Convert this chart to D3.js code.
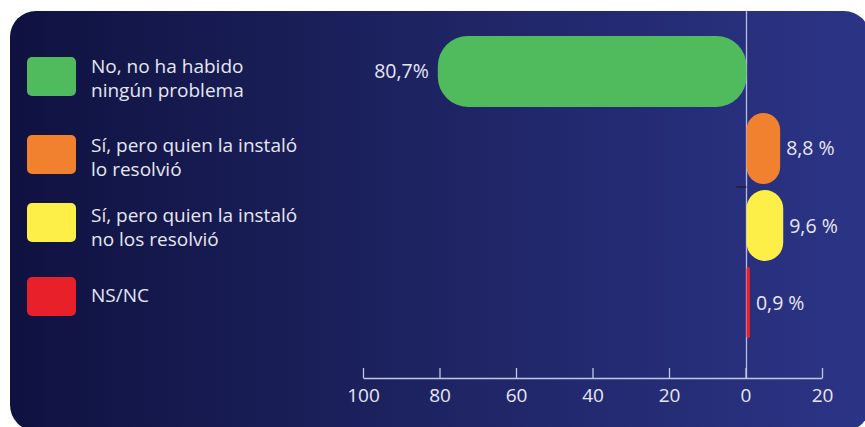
<!DOCTYPE html>
<html><head><meta charset="utf-8">
<script src="https://cdn.jsdelivr.net/npm/d3@7"></script>
<style>html,body{margin:0;padding:0;background:#fff;}svg{display:block;}</style>
</head><body>
<svg id="c" width="865" height="427"></svg>
<script>
const categories = ["No, no ha habido|ningún problema", "Sí, pero quien la instaló|lo resolvió", "Sí, pero quien la instaló|no los resolvió", "NS/NC"];
const values = [80.7, 8.8, 9.6, 0.9];
const directions = [-1, 1, 1, 1];
const valueLabels = ["80,7%", "8,8 %", "9,6 %", "0,9 %"];
const colors = ["#50bb5d", "#f1802f", "#fdee48", "#e8202a"];
const tickValues = [-100, -80, -60, -40, -20, 0, 20];

const svg = d3.select("#c");
const defs = svg.append("defs");
const g = defs.append("linearGradient").attr("id","bg").attr("x1","0").attr("x2","1").attr("y1","0").attr("y2","0");
g.append("stop").attr("offset","0").attr("stop-color","#0f1240");
g.append("stop").attr("offset","0.5").attr("stop-color","#1e2463");
g.append("stop").attr("offset","1").attr("stop-color","#2c3487");
svg.append("rect").attr("x",10).attr("y",11).attr("width",860).attr("height",420).attr("rx",26).attr("fill","url(#bg)");

const x = d3.scaleLinear().domain([-100, 20]).range([363, 822]);
const y = d3.scaleBand().domain(categories).range([36, 338]).paddingInner(0.08);
const font = "'Open Sans', sans-serif";

// zero line
svg.append("line").attr("x1", x(0)+1).attr("x2", x(0)+1).attr("y1", 11).attr("y2", 378)
  .attr("stroke", "#b9bde3").attr("stroke-width", 1.3);

// bars
categories.forEach((c, i) => {
  const v = values[i] * directions[i];
  const x0 = Math.min(x(0), x(v)) + 1, x1 = Math.max(x(0), x(v)) + 1;
  const w = x1 - x0, h = y.bandwidth();
  const r = Math.min(30, w / 2);
  svg.append("rect").attr("x", x0).attr("y", y(c)).attr("width", w).attr("height", h)
    .attr("rx", r).attr("ry", Math.min(r, h/2)).attr("fill", colors[i]);
  const tx = directions[i] < 0 ? x0 - 9 : x1 + 6;
  svg.append("text").attr("x", tx).attr("y", y(c) + h/2 + 7)
    .attr("text-anchor", directions[i] < 0 ? "end" : "start")
    .attr("fill", "#e6e7f2").attr("font-family", font).attr("font-size", 19.5).text(valueLabels[i]);
});

// small dark mark
svg.append("line").attr("x1", x(0)-9).attr("x2", x(0)+1).attr("y1", 187).attr("y2", 187)
  .attr("stroke", "#1a1a2a").attr("stroke-width", 1.2);

// axis
const axis = d3.axisBottom(x).tickValues(tickValues).tickSizeInner(-10).tickSizeOuter(0)
  .tickFormat(d => Math.abs(d));
const ag = svg.append("g").attr("transform", "translate(0,378)").call(axis);
ag.select(".domain").attr("stroke", "#c3c6e6").attr("stroke-width", 1.3);
ag.selectAll(".tick line").attr("stroke", "#c3c6e6").attr("stroke-width", 1.3);
ag.selectAll(".tick text").attr("y", 24).attr("dy", "0").attr("fill", "#e6e7f2")
  .attr("font-family", font).attr("font-size", 19);

// legend
const legY = [57, 135, 203, 277];
const legBase = [73, 152, 222, 302];
categories.forEach((c, i) => {
  svg.append("rect").attr("x", 27).attr("y", legY[i]).attr("width", 49).attr("height", 39)
    .attr("rx", 5).attr("fill", colors[i]);
  const lines = c.split("|");
  const t = svg.append("text").attr("x", 91).attr("y", legBase[i])
    .attr("fill", "#e6e7f2").attr("font-family", font).attr("font-size", 19);
  lines.forEach((l, k) => t.append("tspan").attr("x", 91).attr("dy", k === 0 ? 0 : 24).text(l));
});
</script>
</body></html>
